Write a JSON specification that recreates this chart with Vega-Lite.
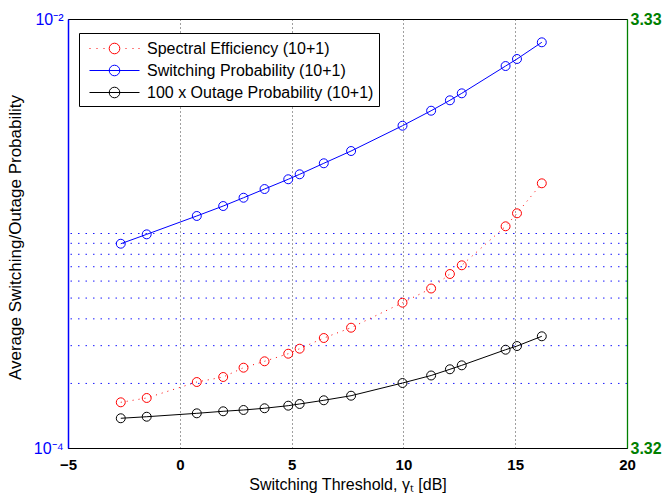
{
  "$schema": "https://vega.github.io/schema/vega-lite/v6.json",
  "width": 559,
  "height": 429,
  "autosize": {"type": "none"},
  "padding": {"left": 68, "top": 19, "right": 38, "bottom": 50},
  "background": "white",
  "config": {
    "font": "Liberation Sans",
    "view": {"stroke": "#000000", "strokeWidth": 1}
  },
  "datasets": {
    "grid": [{"g": 0.0002}, {"g": 0.0003}, {"g": 0.0004}, {"g": 0.0005}, {"g": 0.0006}, {"g": 0.0007}, {"g": 0.0008}, {"g": 0.0009}, {"g": 0.001}],
    "left": [
      {"s": "Switching Probability (10+1)", "x": -2.64, "p": 0.000896},
      {"s": "Switching Probability (10+1)", "x": -1.48, "p": 0.000991},
      {"s": "Switching Probability (10+1)", "x": 0.76, "p": 0.001207},
      {"s": "Switching Probability (10+1)", "x": 1.94, "p": 0.001343},
      {"s": "Switching Probability (10+1)", "x": 2.85, "p": 0.001468},
      {"s": "Switching Probability (10+1)", "x": 3.79, "p": 0.001612},
      {"s": "Switching Probability (10+1)", "x": 4.85, "p": 0.00179},
      {"s": "Switching Probability (10+1)", "x": 5.36, "p": 0.001888},
      {"s": "Switching Probability (10+1)", "x": 6.44, "p": 0.002125},
      {"s": "Switching Probability (10+1)", "x": 7.66, "p": 0.002424},
      {"s": "Switching Probability (10+1)", "x": 9.96, "p": 0.00318},
      {"s": "Switching Probability (10+1)", "x": 11.24, "p": 0.003736},
      {"s": "Switching Probability (10+1)", "x": 12.08, "p": 0.004178},
      {"s": "Switching Probability (10+1)", "x": 12.61, "p": 0.004503},
      {"s": "Switching Probability (10+1)", "x": 14.57, "p": 0.006036},
      {"s": "Switching Probability (10+1)", "x": 15.08, "p": 0.00651},
      {"s": "Switching Probability (10+1)", "x": 16.19, "p": 0.007787},
      {"s": "100 x Outage Probability (10+1)", "x": -2.64, "p": 0.0001376},
      {"s": "100 x Outage Probability (10+1)", "x": -1.48, "p": 0.0001399},
      {"s": "100 x Outage Probability (10+1)", "x": 0.76, "p": 0.0001451},
      {"s": "100 x Outage Probability (10+1)", "x": 1.94, "p": 0.0001483},
      {"s": "100 x Outage Probability (10+1)", "x": 2.85, "p": 0.0001504},
      {"s": "100 x Outage Probability (10+1)", "x": 3.79, "p": 0.0001532},
      {"s": "100 x Outage Probability (10+1)", "x": 4.85, "p": 0.0001575},
      {"s": "100 x Outage Probability (10+1)", "x": 5.36, "p": 0.0001604},
      {"s": "100 x Outage Probability (10+1)", "x": 6.44, "p": 0.0001669},
      {"s": "100 x Outage Probability (10+1)", "x": 7.66, "p": 0.0001753},
      {"s": "100 x Outage Probability (10+1)", "x": 9.96, "p": 0.0002009},
      {"s": "100 x Outage Probability (10+1)", "x": 11.24, "p": 0.0002178},
      {"s": "100 x Outage Probability (10+1)", "x": 12.08, "p": 0.0002328},
      {"s": "100 x Outage Probability (10+1)", "x": 12.61, "p": 0.0002429},
      {"s": "100 x Outage Probability (10+1)", "x": 14.57, "p": 0.0002872},
      {"s": "100 x Outage Probability (10+1)", "x": 15.08, "p": 0.0002988},
      {"s": "100 x Outage Probability (10+1)", "x": 16.19, "p": 0.0003317}
    ],
    "right": [
      {"s": "Spectral Efficiency (10+1)", "x": -2.64, "v": 3.321065},
      {"s": "Spectral Efficiency (10+1)", "x": -1.48, "v": 3.321166},
      {"s": "Spectral Efficiency (10+1)", "x": 0.76, "v": 3.321538},
      {"s": "Spectral Efficiency (10+1)", "x": 1.94, "v": 3.321655},
      {"s": "Spectral Efficiency (10+1)", "x": 2.85, "v": 3.321872},
      {"s": "Spectral Efficiency (10+1)", "x": 3.79, "v": 3.322021},
      {"s": "Spectral Efficiency (10+1)", "x": 4.85, "v": 3.322198},
      {"s": "Spectral Efficiency (10+1)", "x": 5.36, "v": 3.322315},
      {"s": "Spectral Efficiency (10+1)", "x": 6.44, "v": 3.322564},
      {"s": "Spectral Efficiency (10+1)", "x": 7.66, "v": 3.322804},
      {"s": "Spectral Efficiency (10+1)", "x": 9.96, "v": 3.323387},
      {"s": "Spectral Efficiency (10+1)", "x": 11.24, "v": 3.323718},
      {"s": "Spectral Efficiency (10+1)", "x": 12.08, "v": 3.324056},
      {"s": "Spectral Efficiency (10+1)", "x": 12.61, "v": 3.324259},
      {"s": "Spectral Efficiency (10+1)", "x": 14.57, "v": 3.325168},
      {"s": "Spectral Efficiency (10+1)", "x": 15.08, "v": 3.325471},
      {"s": "Spectral Efficiency (10+1)", "x": 16.19, "v": 3.32617}
    ]
  },
  "layer": [
    {
      "layer": [
        {
          "data": {"name": "grid"},
          "mark": {"type": "rule", "color": "#0000FF", "strokeDash": [1.5, 6], "strokeWidth": 1, "opacity": 0.9},
          "encoding": {
            "y": {"field": "g", "type": "quantitative", "scale": {"type": "log", "domain": [0.0001, 0.01]}}
          }
        },
        {
          "data": {"name": "left"},
          "mark": {"type": "line", "strokeWidth": 1},
          "encoding": {
            "x": {
              "field": "x", "type": "quantitative",
              "scale": {"domain": [-5, 20], "nice": false, "zero": false},
              "axis": {
                "values": [-5, 0, 5, 10, 15, 20],
                "grid": true, "gridDash": [1, 3], "gridColor": "#000000", "gridOpacity": 0.75,
                "ticks": false, "domainColor": "#000000", "domainWidth": 1,
                "labelFontSize": 15, "labelFontWeight": "bold", "labelColor": "#000000",
                "labelPadding": 9, "labelFlush": false,
                "title": "Switching Threshold, γₜ [dB]",
                "titleFontSize": 16, "titleFontWeight": "normal", "titleColor": "#000000", "titlePadding": 4
              }
            },
            "y": {
              "field": "p", "type": "quantitative",
              "scale": {"type": "log", "domain": [0.0001, 0.01]},
              "axis": {
                "orient": "left", "values": [0.0001, 0.01],
                "labelExpr": "datum.value < 0.001 ? '10⁻⁴' : '10⁻²'",
                "ticks": false, "grid": false,
                "domainColor": "#0000FF", "domainWidth": 1.5,
                "labelColor": "#0000FF", "labelFontSize": 16, "labelPadding": 5, "labelFlush": false,
                "title": "Average Switching/Outage Probability",
                "titleColor": "#000000", "titleFontSize": 17, "titleFontWeight": "normal", "titlePadding": 9,
                "titleY": 218
              }
            },
            "color": {
              "field": "s", "type": "nominal",
              "scale": {
                "domain": ["Spectral Efficiency (10+1)", "Switching Probability (10+1)", "100 x Outage Probability (10+1)"],
                "range": ["#FF0000", "#0000FF", "#000000"]
              },
              "legend": {
                "orient": "none", "legendX": 11, "legendY": 14,
                "title": null,
                "strokeColor": "#000000", "fillColor": "#FFFFFF", "padding": 5,
                "labelFont": "Liberation Sans", "labelFontSize": 16, "labelColor": "#000000", "labelLimit": 400,
                "symbolSize": 400, "symbolStrokeWidth": 1,
                "symbolType": "M-0.5,0L4.5,0M2.53,0A0.53,0.53,0,1,1,1.47,0A0.53,0.53,0,1,1,2.53,0",
                "labelOffset": 42, "rowPadding": 3,
                "encode": {
                  "symbols": {
                    "update": {
                      "shape": {"signal": "datum.value === 'Spectral Efficiency (10+1)' ? 'M-0.5,0L-0.4,0M0.2,0L0.3,0M0.9,0L1,0M3.1,0L3.2,0M3.8,0L3.9,0M4.4,0L4.5,0M2.53,0A0.53,0.53,0,1,1,1.47,0A0.53,0.53,0,1,1,2.53,0' : 'M-0.5,0L4.5,0M2.53,0A0.53,0.53,0,1,1,1.47,0A0.53,0.53,0,1,1,2.53,0'"},
                      "fill": {"value": "transparent"}
                    }
                  }
                }
              }
            }
          }
        },
        {
          "data": {"name": "left"},
          "mark": {"type": "point", "shape": "circle", "filled": false, "size": 80, "strokeWidth": 1, "opacity": 1},
          "encoding": {
            "x": {"field": "x", "type": "quantitative"},
            "y": {"field": "p", "type": "quantitative"},
            "color": {"field": "s", "type": "nominal"}
          }
        }
      ]
    },
    {
      "layer": [
        {
          "data": {"name": "right"},
          "mark": {"type": "line", "strokeWidth": 1, "strokeDash": [1, 5]},
          "encoding": {
            "x": {"field": "x", "type": "quantitative"},
            "y": {
              "field": "v", "type": "quantitative",
              "scale": {"domain": [3.32, 3.33], "nice": false, "zero": false},
              "axis": {
                "orient": "right", "values": [3.32, 3.33], "format": ".2f",
                "ticks": false, "grid": false,
                "domainColor": "#008000", "domainWidth": 1.3,
                "labelColor": "#008000", "labelFontSize": 16, "labelFontWeight": "bold",
                "labelPadding": 3, "labelFlush": false,
                "title": null
              }
            },
            "color": {"field": "s", "type": "nominal"}
          }
        },
        {
          "data": {"name": "right"},
          "mark": {"type": "point", "shape": "circle", "filled": false, "size": 80, "strokeWidth": 1, "opacity": 1},
          "encoding": {
            "x": {"field": "x", "type": "quantitative"},
            "y": {"field": "v", "type": "quantitative"},
            "color": {"field": "s", "type": "nominal"}
          }
        }
      ]
    }
  ],
  "resolve": {"scale": {"y": "independent"}}
}
